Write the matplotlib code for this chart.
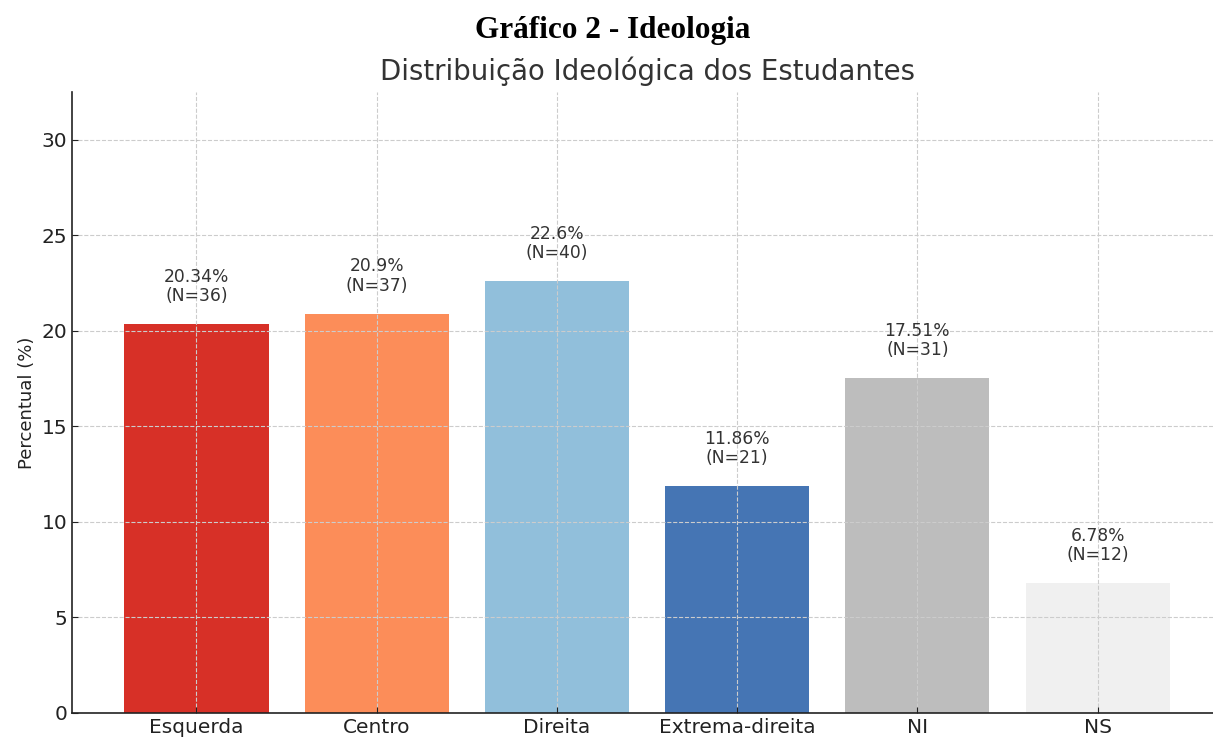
import matplotlib.pyplot as plt

categorias = ["Esquerda", "Centro", "Direita", "Extrema-direita", "NI", "NS"]
percentuais = [20.34, 20.9, 22.6, 11.86, 17.51, 6.78]
contagens = [36, 37, 40, 21, 31, 12]
cores = ["#d73027", "#fc8d59", "#91bfdb", "#4575b4", "#bdbdbd", "#f0f0f0"]

fig = plt.figure(figsize=(12.13, 7.4), dpi=100)
ax = fig.add_axes([0.0594, 0.0365, 0.948, 0.839])

barras = ax.bar(categorias, percentuais, color=cores, width=0.8)

for b, p, n in zip(barras, percentuais, contagens):
    ax.text(b.get_x() + b.get_width() / 2, p + 1, f"{p}%\n(N={n})",
            ha="center", va="bottom", fontsize=12.3, color="#333333",
            linespacing=1.1)

ax.set_ylim(0, 32.5)
ax.set_ylabel("Percentual (%)", fontsize=13, color="#222222")
ax.set_title("Distribuição Ideológica dos Estudantes", fontsize=19.8, color="#333333", pad=9)
fig.suptitle("Gráfico 2 - Ideologia", fontsize=22.5, fontweight="bold",
             family="Liberation Serif", y=0.978, x=0.505)

ax.grid(True, linestyle="--", color="#cccccc", linewidth=0.8)
ax.tick_params(direction="in", length=4, labelsize=14.5, colors="#222222")
ax.spines["top"].set_visible(False)
ax.spines["right"].set_visible(False)
for s in ["left", "bottom"]:
    ax.spines[s].set_linewidth(1.2)
    ax.spines[s].set_color("#222222")

fig.savefig("out.png", dpi=100)
